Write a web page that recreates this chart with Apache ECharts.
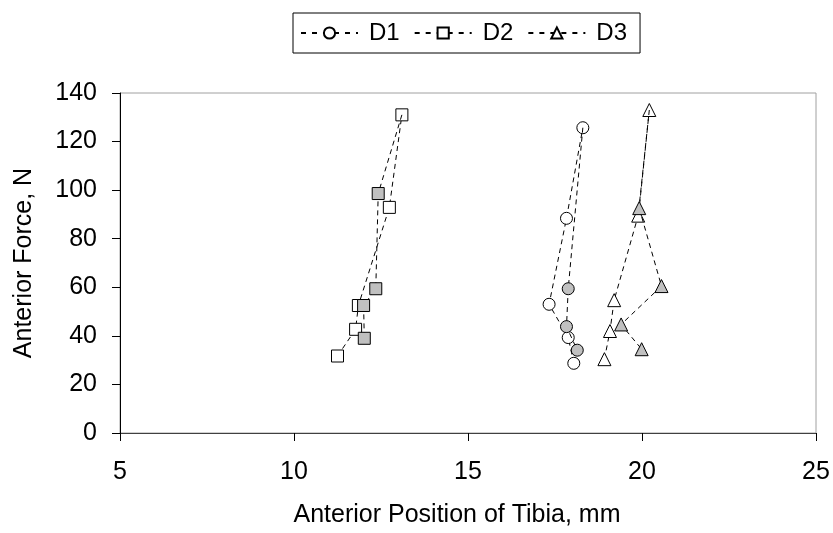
<!DOCTYPE html>
<html>
<head>
<meta charset="utf-8">
<script src="https://cdn.jsdelivr.net/npm/echarts@6/dist/echarts.min.js"></script>
<style>
  html, body { margin: 0; padding: 0; background: #fff; }
  #chart { width: 833px; height: 533px; }
</style>
</head>
<body>
<div id="chart"></div>
<script>
// Axis ticks
const xTicks = [5, 10, 15, 20, 25];
const yTicks = [0, 20, 40, 60, 80, 100, 120, 140];

// D1: loading (open) and unloading (filled) paths
const d1LoadX = [18.04, 17.88, 17.33, 17.83, 18.30];
const d1LoadY = [28.7, 39.3, 53.0, 88.4, 125.7];
const d1UnloadX = [18.30, 17.88, 17.83, 18.14];
const d1UnloadY = [125.7, 59.4, 43.8, 34.1];

// D2
const d2LoadX = [11.25, 11.77, 11.85, 12.74, 13.10];
const d2LoadY = [31.7, 42.7, 52.5, 92.9, 131.0];
const d2UnloadX = [13.10, 12.42, 12.35, 12.00, 12.02];
const d2UnloadY = [131.0, 98.6, 59.4, 52.5, 39.0];

// D3
const d3LoadX = [18.92, 19.08, 19.20, 19.89, 20.21];
const d3LoadY = [30.4, 42.0, 54.7, 89.5, 133.0];
const d3UnloadX = [20.21, 19.92, 20.56, 19.40, 19.99];
const d3UnloadY = [133.0, 92.6, 60.5, 44.7, 34.5];

const FONT = 'Liberation Sans, Arial, sans-serif';
const dash = { color: '#000', width: 1, type: [5, 4] };

function pairs(xs, ys) {
  return xs.map((x, i) => [x, ys[i]]);
}

// The unloading path starts at the peak, which is already marked by the open symbol.
function unloadPairs(xs, ys) {
  return xs.map((x, i) => (i === 0 ? { value: [x, ys[i]], symbol: 'none' } : [x, ys[i]]));
}

function loadSeries(name, symbol, size, xs, ys) {
  return {
    name: name, type: 'line', symbol: symbol, symbolSize: size,
    data: pairs(xs, ys),
    lineStyle: dash,
    itemStyle: { color: '#fff', borderColor: '#000', borderWidth: 1 },
    emphasis: { disabled: true },
    z: 2
  };
}

function unloadSeries(name, symbol, size, xs, ys) {
  return {
    name: name, type: 'line', symbol: symbol, symbolSize: size,
    data: unloadPairs(xs, ys),
    lineStyle: dash,
    itemStyle: { color: '#c0c0c0', borderColor: '#000', borderWidth: 1 },
    emphasis: { disabled: true },
    z: 3
  };
}

const chart = echarts.init(document.getElementById('chart'), null, { renderer: 'canvas' });

chart.setOption({
  animation: false,
  backgroundColor: '#fff',
  textStyle: { fontFamily: FONT, color: '#000' },
  legend: {
    left: 293, top: 13,
    padding: [8, 13, 8, 7],
    itemWidth: 57, itemHeight: 14, itemGap: 14,
    borderColor: '#000', borderWidth: 1,
    lineStyle: { type: [5, 6] },
    textStyle: { fontSize: 24, fontFamily: FONT, color: '#000', padding: [0, 0, 0, 6] },
    data: ['D1', 'D2', 'D3']
  },
  grid: {
    left: 120, right: 17, top: 93, bottom: 99,
    show: true, borderColor: '#a0a0a0', borderWidth: 1, backgroundColor: 'transparent'
  },
  xAxis: {
    type: 'value', min: xTicks[0], max: xTicks[xTicks.length - 1], interval: 5,
    name: 'Anterior Position of Tibia, mm',
    nameLocation: 'middle', nameGap: 70,
    nameTextStyle: { fontSize: 25, fontFamily: FONT, color: '#000', padding: [0, 22, 0, 0] },
    axisLine: { show: true, onZero: false, lineStyle: { color: '#404040', width: 1 } },
    axisTick: { show: true, inside: false, length: 8, lineStyle: { color: '#000' } },
    axisLabel: { fontSize: 25, fontFamily: FONT, color: '#000', margin: 27 },
    splitLine: { show: false }
  },
  yAxis: {
    type: 'value', min: yTicks[0], max: yTicks[yTicks.length - 1], interval: 20,
    name: 'Anterior Force, N',
    nameLocation: 'middle', nameGap: 83, nameRotate: 90,
    nameTextStyle: { fontSize: 25, fontFamily: FONT, color: '#000' },
    axisLine: { show: true, onZero: false, lineStyle: { color: '#000', width: 1 } },
    axisTick: { show: true, inside: false, length: 8, lineStyle: { color: '#000' } },
    axisLabel: { fontSize: 25, fontFamily: FONT, color: '#000', margin: 23 },
    splitLine: { show: false }
  },
  series: [
    loadSeries('D1', 'circle', 12, d1LoadX, d1LoadY),
    loadSeries('D2', 'rect', 12, d2LoadX, d2LoadY),
    loadSeries('D3', 'triangle', 13, d3LoadX, d3LoadY),
    unloadSeries('D1', 'circle', 12, d1UnloadX, d1UnloadY),
    unloadSeries('D2', 'rect', 12, d2UnloadX, d2UnloadY),
    unloadSeries('D3', 'triangle', 13, d3UnloadX, d3UnloadY)
  ]
});
</script>
</body>
</html>
